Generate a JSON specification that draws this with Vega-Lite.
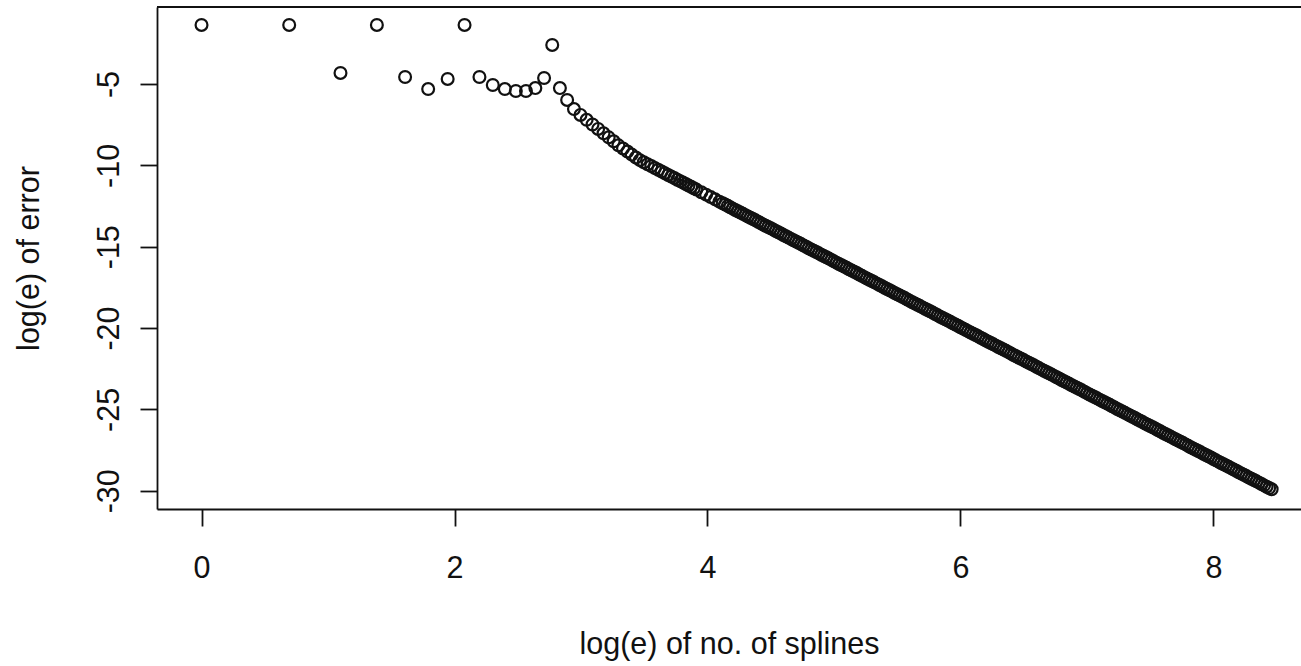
{
  "$schema": "https://vega.github.io/schema/vega-lite/v6.json",
  "width": 1144,
  "height": 502,
  "autosize": {"type": "none"},
  "padding": {"left": 157, "top": 7, "right": 0, "bottom": 157},
  "background": "white",
  "config": {
    "view": {"stroke": null},
    "axis": {
      "grid": false,
      "domainColor": "#111",
      "domainWidth": 1.8,
      "tickColor": "#111",
      "tickWidth": 1.8,
      "tickSize": 17,
      "labelFont": "Liberation Sans",
      "labelFontSize": 30.5,
      "labelColor": "#111",
      "titleFont": "Liberation Sans",
      "titleFontSize": 30.5,
      "titleFontWeight": "normal",
      "titleColor": "#111"
    }
  },
  "data": {"values": [
    {"x": 0, "y": -1.37}, {"x": 0.6931, "y": -1.37}, {"x": 1.0986, "y": -4.32}, {"x": 1.3863, "y": -1.37},
    {"x": 1.6094, "y": -4.57}, {"x": 1.7918, "y": -5.31}, {"x": 1.9459, "y": -4.69}, {"x": 2.0794, "y": -1.37},
    {"x": 2.1972, "y": -4.57}, {"x": 2.3026, "y": -5.06}, {"x": 2.3979, "y": -5.31}, {"x": 2.4849, "y": -5.43},
    {"x": 2.5649, "y": -5.43}, {"x": 2.6391, "y": -5.25}, {"x": 2.7081, "y": -4.63}, {"x": 2.7726, "y": -2.6},
    {"x": 2.8332, "y": -5.25}, {"x": 2.8904, "y": -5.98}, {"x": 2.9444, "y": -6.54},
    {"x": 2.9957, "y": -6.9}, {"x": 3.0445, "y": -7.2}, {"x": 3.091, "y": -7.49}, {"x": 3.1355, "y": -7.76},
    {"x": 3.1781, "y": -8.03}, {"x": 3.2189, "y": -8.28}, {"x": 3.2581, "y": -8.52}, {"x": 3.2958, "y": -8.77},
    {"x": 3.3322, "y": -8.96}, {"x": 3.3673, "y": -9.15}, {"x": 3.4012, "y": -9.34}, {"x": 3.434, "y": -9.52},
    {"x": 3.4657, "y": -9.68}, {"x": 3.4965, "y": -9.81}, {"x": 3.5264, "y": -9.93}, {"x": 3.5553, "y": -10.04},
    {"x": 3.5835, "y": -10.16}, {"x": 3.6109, "y": -10.27}, {"x": 3.6376, "y": -10.38}, {"x": 3.6636, "y": -10.48},
    {"x": 3.6889, "y": -10.59}, {"x": 3.7136, "y": -10.69}, {"x": 3.7377, "y": -10.78}, {"x": 3.7612, "y": -10.88},
    {"x": 3.7842, "y": -10.97}, {"x": 3.8067, "y": -11.06}, {"x": 3.8286, "y": -11.15}, {"x": 3.8501, "y": -11.24},
    {"x": 3.8712, "y": -11.32}, {"x": 3.8918, "y": -11.41}, {"x": 3.912, "y": -11.49}, {"x": 3.9512, "y": -11.65},
    {"x": 3.989, "y": -11.8}, {"x": 4.0254, "y": -11.95}, {"x": 4.0604, "y": -12.09}, {"x": 4.0943, "y": -12.23},
    {"x": 4.12, "y": -12.33}, {"x": 4.14, "y": -12.41}, {"x": 4.16, "y": -12.49}, {"x": 4.18, "y": -12.57},
    {"x": 4.2, "y": -12.66}, {"x": 4.22, "y": -12.74}, {"x": 4.24, "y": -12.82}, {"x": 4.26, "y": -12.9},
    {"x": 4.28, "y": -12.98}, {"x": 4.3, "y": -13.06}, {"x": 4.32, "y": -13.14}, {"x": 4.34, "y": -13.22},
    {"x": 4.36, "y": -13.3}, {"x": 4.38, "y": -13.38}, {"x": 4.4, "y": -13.47}, {"x": 4.42, "y": -13.55},
    {"x": 4.44, "y": -13.63}, {"x": 4.46, "y": -13.71}, {"x": 4.48, "y": -13.79}, {"x": 4.5, "y": -13.87},
    {"x": 4.52, "y": -13.95}, {"x": 4.54, "y": -14.03}, {"x": 4.56, "y": -14.11}, {"x": 4.58, "y": -14.19},
    {"x": 4.6, "y": -14.28}, {"x": 4.62, "y": -14.36}, {"x": 4.64, "y": -14.44}, {"x": 4.66, "y": -14.52},
    {"x": 4.68, "y": -14.6}, {"x": 4.7, "y": -14.68}, {"x": 4.72, "y": -14.76}, {"x": 4.74, "y": -14.84},
    {"x": 4.76, "y": -14.92}, {"x": 4.78, "y": -15.0}, {"x": 4.8, "y": -15.09}, {"x": 4.82, "y": -15.17},
    {"x": 4.84, "y": -15.25}, {"x": 4.86, "y": -15.33}, {"x": 4.88, "y": -15.41}, {"x": 4.9, "y": -15.49},
    {"x": 4.92, "y": -15.57}, {"x": 4.94, "y": -15.65}, {"x": 4.96, "y": -15.73}, {"x": 4.98, "y": -15.81},
    {"x": 5.0, "y": -15.9}, {"x": 5.02, "y": -15.98}, {"x": 5.04, "y": -16.06}, {"x": 5.06, "y": -16.14},
    {"x": 5.08, "y": -16.22}, {"x": 5.1, "y": -16.3}, {"x": 5.12, "y": -16.38}, {"x": 5.14, "y": -16.46},
    {"x": 5.16, "y": -16.54}, {"x": 5.18, "y": -16.62}, {"x": 5.2, "y": -16.71}, {"x": 5.22, "y": -16.79},
    {"x": 5.24, "y": -16.87}, {"x": 5.26, "y": -16.95}, {"x": 5.28, "y": -17.03}, {"x": 5.3, "y": -17.11},
    {"x": 5.32, "y": -17.19}, {"x": 5.34, "y": -17.27}, {"x": 5.36, "y": -17.35}, {"x": 5.38, "y": -17.43},
    {"x": 5.4, "y": -17.52}, {"x": 5.42, "y": -17.6}, {"x": 5.44, "y": -17.68}, {"x": 5.46, "y": -17.76},
    {"x": 5.48, "y": -17.84}, {"x": 5.5, "y": -17.92}, {"x": 5.52, "y": -18.0}, {"x": 5.54, "y": -18.08},
    {"x": 5.56, "y": -18.16}, {"x": 5.58, "y": -18.24}, {"x": 5.6, "y": -18.33}, {"x": 5.62, "y": -18.41},
    {"x": 5.64, "y": -18.49}, {"x": 5.66, "y": -18.57}, {"x": 5.68, "y": -18.65}, {"x": 5.7, "y": -18.73},
    {"x": 5.72, "y": -18.81}, {"x": 5.74, "y": -18.89}, {"x": 5.76, "y": -18.97}, {"x": 5.78, "y": -19.05},
    {"x": 5.8, "y": -19.14}, {"x": 5.82, "y": -19.22}, {"x": 5.84, "y": -19.3}, {"x": 5.86, "y": -19.38},
    {"x": 5.88, "y": -19.46}, {"x": 5.9, "y": -19.54}, {"x": 5.92, "y": -19.62}, {"x": 5.94, "y": -19.7},
    {"x": 5.96, "y": -19.78}, {"x": 5.98, "y": -19.86}, {"x": 6.0, "y": -19.95}, {"x": 6.02, "y": -20.03},
    {"x": 6.04, "y": -20.11}, {"x": 6.06, "y": -20.19}, {"x": 6.08, "y": -20.27}, {"x": 6.1, "y": -20.35},
    {"x": 6.12, "y": -20.43}, {"x": 6.14, "y": -20.51}, {"x": 6.16, "y": -20.59}, {"x": 6.18, "y": -20.67},
    {"x": 6.2, "y": -20.76}, {"x": 6.22, "y": -20.84}, {"x": 6.24, "y": -20.92}, {"x": 6.26, "y": -21.0},
    {"x": 6.28, "y": -21.08}, {"x": 6.3, "y": -21.16}, {"x": 6.32, "y": -21.24}, {"x": 6.34, "y": -21.32},
    {"x": 6.36, "y": -21.4}, {"x": 6.38, "y": -21.48}, {"x": 6.4, "y": -21.57}, {"x": 6.42, "y": -21.65},
    {"x": 6.44, "y": -21.73}, {"x": 6.46, "y": -21.81}, {"x": 6.48, "y": -21.89}, {"x": 6.5, "y": -21.97},
    {"x": 6.52, "y": -22.05}, {"x": 6.54, "y": -22.13}, {"x": 6.56, "y": -22.21}, {"x": 6.58, "y": -22.29},
    {"x": 6.6, "y": -22.38}, {"x": 6.62, "y": -22.46}, {"x": 6.64, "y": -22.54}, {"x": 6.66, "y": -22.62},
    {"x": 6.68, "y": -22.7}, {"x": 6.7, "y": -22.78}, {"x": 6.72, "y": -22.86}, {"x": 6.74, "y": -22.94},
    {"x": 6.76, "y": -23.02}, {"x": 6.78, "y": -23.1}, {"x": 6.8, "y": -23.19}, {"x": 6.82, "y": -23.27},
    {"x": 6.84, "y": -23.35}, {"x": 6.86, "y": -23.43}, {"x": 6.88, "y": -23.51}, {"x": 6.9, "y": -23.59},
    {"x": 6.92, "y": -23.67}, {"x": 6.94, "y": -23.75}, {"x": 6.96, "y": -23.83}, {"x": 6.98, "y": -23.91},
    {"x": 7.0, "y": -24.0}, {"x": 7.02, "y": -24.08}, {"x": 7.04, "y": -24.16}, {"x": 7.06, "y": -24.24},
    {"x": 7.08, "y": -24.32}, {"x": 7.1, "y": -24.4}, {"x": 7.12, "y": -24.48}, {"x": 7.14, "y": -24.56},
    {"x": 7.16, "y": -24.64}, {"x": 7.18, "y": -24.72}, {"x": 7.2, "y": -24.81}, {"x": 7.22, "y": -24.89},
    {"x": 7.24, "y": -24.97}, {"x": 7.26, "y": -25.05}, {"x": 7.28, "y": -25.13}, {"x": 7.3, "y": -25.21},
    {"x": 7.32, "y": -25.29}, {"x": 7.34, "y": -25.37}, {"x": 7.36, "y": -25.45}, {"x": 7.38, "y": -25.53},
    {"x": 7.4, "y": -25.62}, {"x": 7.42, "y": -25.7}, {"x": 7.44, "y": -25.78}, {"x": 7.46, "y": -25.86},
    {"x": 7.48, "y": -25.94}, {"x": 7.5, "y": -26.02}, {"x": 7.52, "y": -26.1}, {"x": 7.54, "y": -26.18},
    {"x": 7.56, "y": -26.26}, {"x": 7.58, "y": -26.34}, {"x": 7.6, "y": -26.43}, {"x": 7.62, "y": -26.51},
    {"x": 7.64, "y": -26.59}, {"x": 7.66, "y": -26.67}, {"x": 7.68, "y": -26.75}, {"x": 7.7, "y": -26.83},
    {"x": 7.72, "y": -26.91}, {"x": 7.74, "y": -26.99}, {"x": 7.76, "y": -27.07}, {"x": 7.78, "y": -27.15},
    {"x": 7.8, "y": -27.24}, {"x": 7.82, "y": -27.32}, {"x": 7.84, "y": -27.4}, {"x": 7.86, "y": -27.48},
    {"x": 7.88, "y": -27.56}, {"x": 7.9, "y": -27.64}, {"x": 7.92, "y": -27.72}, {"x": 7.94, "y": -27.8},
    {"x": 7.96, "y": -27.88}, {"x": 7.98, "y": -27.96}, {"x": 8.0, "y": -28.05}, {"x": 8.02, "y": -28.13},
    {"x": 8.04, "y": -28.21}, {"x": 8.06, "y": -28.29}, {"x": 8.08, "y": -28.37}, {"x": 8.1, "y": -28.45},
    {"x": 8.12, "y": -28.53}, {"x": 8.14, "y": -28.61}, {"x": 8.16, "y": -28.69}, {"x": 8.18, "y": -28.77},
    {"x": 8.2, "y": -28.86}, {"x": 8.22, "y": -28.94}, {"x": 8.24, "y": -29.02}, {"x": 8.26, "y": -29.1},
    {"x": 8.28, "y": -29.18}, {"x": 8.3, "y": -29.26}, {"x": 8.32, "y": -29.34}, {"x": 8.34, "y": -29.42},
    {"x": 8.36, "y": -29.5}, {"x": 8.38, "y": -29.58}, {"x": 8.4, "y": -29.67}, {"x": 8.42, "y": -29.75},
    {"x": 8.44, "y": -29.83}, {"x": 8.46, "y": -29.91}
  ]},
  "layer": [
    {
      "mark": {"type": "point", "shape": "circle", "filled": false, "stroke": "#111", "strokeWidth": 2.2, "size": 140, "opacity": 1},
      "encoding": {
        "x": {
          "field": "x", "type": "quantitative",
          "scale": {"domain": [-0.352, 8.692], "nice": false, "zero": false},
          "axis": {"values": [0, 2, 4, 6, 8], "title": "log(e) of no. of splines", "labelPadding": 27, "labelBaseline": "top", "titlePadding": 46}
        },
        "y": {
          "field": "y", "type": "quantitative",
          "scale": {"domain": [-31.12, -0.267], "nice": false, "zero": false},
          "axis": {"values": [-30, -25, -20, -15, -10, -5], "title": "log(e) of error", "labelAngle": 270, "labelAlign": "center", "labelBaseline": "alphabetic", "labelPadding": 22, "labelExpr": "'' + datum.value", "titlePadding": 50}
        }
      }
    },
    {
      "mark": {"type": "rule", "stroke": "#111", "strokeWidth": 1.8},
      "encoding": {"y": {"datum": -0.267}}
    }
  ]
}
